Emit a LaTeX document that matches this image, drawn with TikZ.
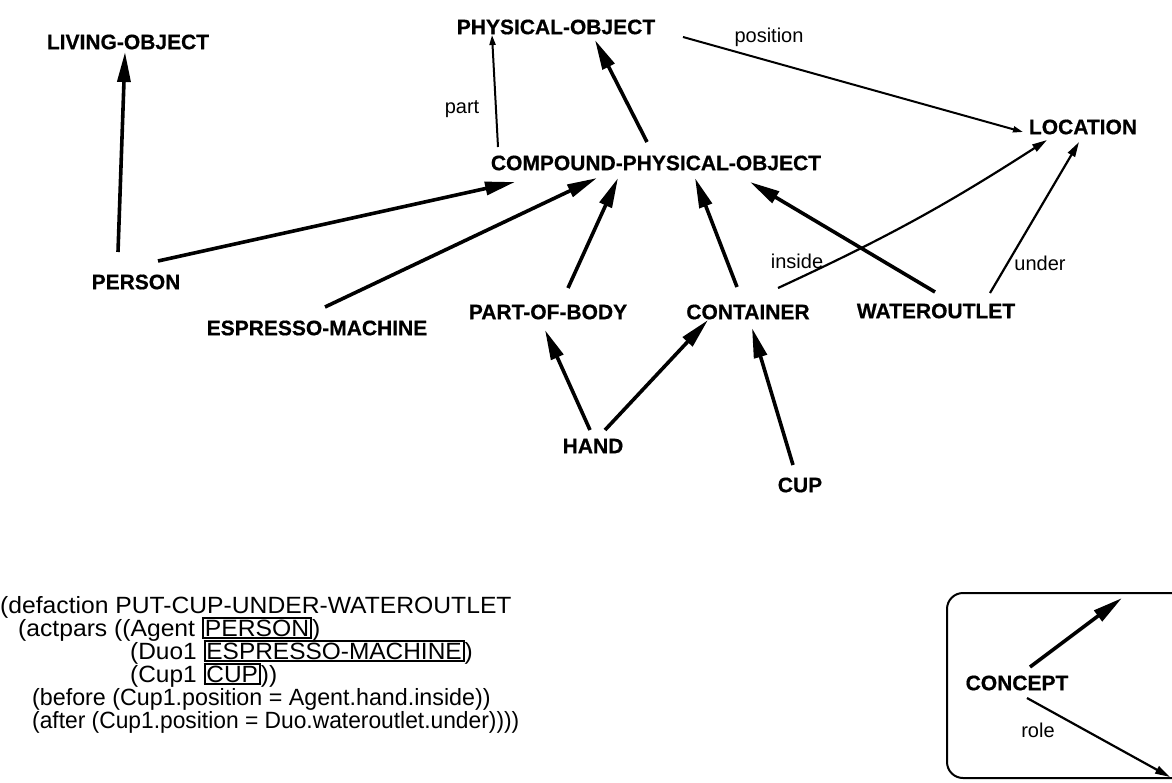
\documentclass[tikz,border=0pt]{standalone}
\usepackage{fontspec}
\usepackage{graphicx}
\setmainfont{Liberation Sans}[BoldFeatures={FakeBold=0.6}]
\usetikzlibrary{arrows.meta}
\setlength\fboxsep{0.8pt}
\setlength\fboxrule{2pt}
\begin{document}
\begin{tikzpicture}[x=1pt,y=-1pt,
  concept/.style={font=\bfseries\fontsize{21}{24}\selectfont, inner sep=0pt},
  rolelab/.style={font=\fontsize{20}{24}\selectfont, inner sep=0pt, anchor=base},
  codeline/.style={font=\fontsize{23.5}{26}\selectfont, inner sep=0pt, anchor=base west},
  isa/.style={line width=3.6pt, -{Triangle[length=30pt,width=13pt]}},
  rel/.style={line width=2.2pt, -{Triangle[length=15pt,width=8pt]}},
  relsmall/.style={line width=2pt, -{Triangle[length=10pt,width=6pt]}},
  legendbox/.style={line width=2pt, rounded corners=16pt}
  ]
\useasboundingbox (0,0) rectangle (1172,782);

% concept nodes
\node[concept] (liv)       at (128,42)  {LIVING-OBJECT};
\node[concept] (phys)      at (556,27)  {PHYSICAL-OBJECT};
\node[concept] (loc)       at (1083,127){LOCATION};
\node[concept] (comp)      at (656,163) {COMPOUND-PHYSICAL-OBJECT};
\node[concept] (person)    at (136,282) {PERSON};
\node[concept] (espresso)  at (317,328) {ESPRESSO-MACHINE};
\node[concept] (pob)       at (548,312) {PART-OF-BODY};
\node[concept] (container) at (748,312) {CONTAINER};
\node[concept] (water)     at (936,311) {WATEROUTLET};
\node[concept] (hand)      at (593,446) {HAND};
\node[concept] (cup)       at (800,485) {CUP};

% role labels
\node[rolelab] (lpos)    at (769,42)  {position};
\node[rolelab] (lpart)   at (462,113) {part};
\node[rolelab] (linside) at (797,268) {inside};
\node[rolelab] (lunder)  at (1040,270){under};

% is-a links
\draw[isa] ([shift={(-18,-30)}]person.center) -- ([shift={(-3,10)}]liv.center);
\draw[isa] ([shift={(22,-21)}]person.center) -- ([shift={(-141,19)}]comp.center);
\draw[isa] ([shift={(8,-21)}]espresso.center) -- ([shift={(-59,15)}]comp.center);
\draw[isa] ([shift={(20,-24)}]pob.center) -- ([shift={(-38,15)}]comp.center);
\draw[isa] ([shift={(-9,-21)}]comp.center) -- ([shift={(39,13)}]phys.center);
\draw[isa] ([shift={(-11,-25)}]container.center) -- ([shift={(39,15)}]comp.center);
\draw[isa] ([shift={(-1,-19)}]water.center) -- ([shift={(94,19)}]comp.center);
\draw[isa] ([shift={(-3,-16)}]hand.center) -- ([shift={(-3,18)}]pob.center);
\draw[isa] ([shift={(12,-16)}]hand.center) -- ([shift={(-40,8)}]container.center);
\draw[isa] ([shift={(-7,-20)}]cup.center) -- ([shift={(4,16)}]container.center);

% role links
\draw[relsmall] ([shift={(-158,-16)}]comp.center) -- ([shift={(-64,8)}]phys.center);
\draw[relsmall] ([shift={(127,10)}]phys.center) -- ([shift={(-60,5)}]loc.center);
\draw[rel] ([shift={(30,-24)}]container.center) to[bend right=4] ([shift={(-36,13)}]loc.center);
\draw[rel] ([shift={(54,-18)}]water.center) -- ([shift={(-4,15)}]loc.center);

% code
\node[codeline] (code1) at (0,613)   {\scalebox{1.05}[1]{(defaction PUT-CUP-UNDER-WATEROUTLET}};
\node[codeline] (code2) at (18,636)  {\scalebox{1.05}[1]{(actpars ((Agent \fbox{PERSON})}};
\node[codeline] (code3) at (130,659) {\scalebox{1.04}[1]{(Duo1 \fbox{ESPRESSO-MACHINE})}};
\node[codeline] (code4) at (130,682) {\scalebox{1.04}[1]{(Cup1 \fbox{CUP}))}};
\node[codeline] (code5) at (32,705)  {\scalebox{0.99}[1]{(before (Cup1.position = Agent.hand.inside))}};
\node[codeline] (code6) at (32,728)  {\scalebox{0.97}[1]{(after (Cup1.position = Duo.wateroutlet.under))))}};

% legend
\begin{scope}
\clip (0,0) rectangle (1172,782);
\draw[legendbox] (947,593) rectangle (1190,778);
\node[concept] (legc) at (1017,683) {CONCEPT};
\node[rolelab] (lrole) at (1038,737) {role};
\coordinate (legtop) at (1122,598);
\coordinate (legend) at (1170,777);
\draw[isa] ([shift={(13,-16)}]legc.center) -- (legtop);
\draw[rel] ([shift={(10,15)}]legc.center) -- (legend);
\end{scope}
\end{tikzpicture}
\end{document}
